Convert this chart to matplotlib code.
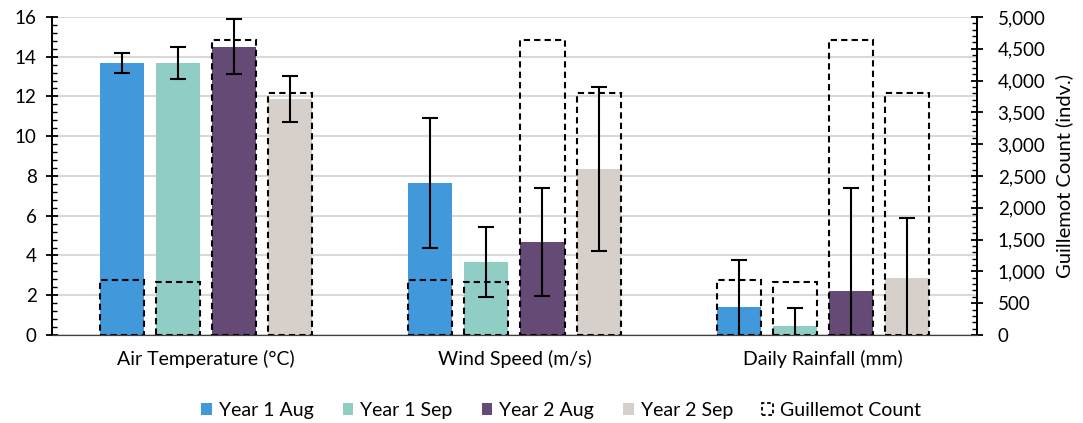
import matplotlib
matplotlib.use('Agg')
import matplotlib.pyplot as plt
from matplotlib.patches import Patch
from matplotlib.ticker import MultipleLocator, FuncFormatter
import numpy as np

plt.rcParams['font.family'] = ['Lato', 'DejaVu Sans']

categories = ['Air Temperature (°C)', 'Wind Speed (m/s)', 'Daily Rainfall (mm)']
series = ['Year 1 Aug', 'Year 1 Sep', 'Year 2 Aug', 'Year 2 Sep']
colors = ['#4198DB', '#90CDC5', '#654A75', '#D7D0CA']

# means per series, one value per category
means = {
    'Year 1 Aug': [13.69, 7.66, 1.42],
    'Year 1 Sep': [13.69, 3.67, 0.47],
    'Year 2 Aug': [14.50, 4.66, 2.20],
    'Year 2 Sep': [11.87, 8.35, 2.85],
}
errs = {
    'Year 1 Aug': [0.52, 3.26, 2.34],
    'Year 1 Sep': [0.82, 1.74, 0.89],
    'Year 2 Aug': [1.38, 2.72, 5.21],
    'Year 2 Sep': [1.18, 4.12, 3.05],
}
# guillemot count for each survey period
guillemot = [870, 840, 4640, 3800]

fig = plt.figure(figsize=(10.83, 4.23), dpi=100)
ax = fig.add_axes([0.048, 0.208, 0.854, 0.752])
ax2 = ax.twinx()

x = np.arange(len(categories))
width = 0.143
step = 0.182

for i, s in enumerate(series):
    pos = x + (i - 1.5) * step
    ax.bar(pos, means[s], width, color=colors[i], zorder=2)
    ax.errorbar(pos, means[s], yerr=errs[s], fmt='none', ecolor='black',
                elinewidth=1.5, capsize=6, capthick=1.5, zorder=4)
    ax2.bar(pos, [guillemot[i]] * len(categories), width, fill=False,
            edgecolor='black', linestyle=(0, (3, 2)), linewidth=1.5, zorder=3)

ax.set_xlim(-0.5, 2.5)
ax.set_ylim(0, 16)
ax2.set_ylim(0, 5000)
ax.set_xticks(x)
ax.set_xticklabels(categories)
ax.tick_params(axis='x', length=0, pad=11, labelsize=14, colors='black')

ax.yaxis.set_major_locator(MultipleLocator(2))
ax.yaxis.set_minor_locator(MultipleLocator(0.4))
ax.tick_params(axis='y', which='major', direction='inout', length=8, width=1.3,
               labelsize=13.5, pad=7)
ax.tick_params(axis='y', which='minor', direction='in', length=3.5, width=1.0)

ax2.yaxis.set_major_locator(MultipleLocator(500))
ax2.yaxis.set_minor_locator(MultipleLocator(100))
ax2.yaxis.set_major_formatter(FuncFormatter(lambda v, p: f'{int(v):,}'))
ax2.tick_params(axis='y', which='major', direction='inout', length=8, width=1.3,
                labelsize=13.5, pad=11)
ax2.tick_params(axis='y', which='minor', direction='in', length=3.5, width=1.0)
ax2.set_ylabel('Guillemot Count (indv.)', fontsize=14.5, labelpad=7)

ax.grid(axis='y', color='#d9d9d9', linewidth=1.5, zorder=0)
ax.set_axisbelow(True)
for a in (ax, ax2):
    a.spines['top'].set_visible(False)
    a.spines['left'].set_linewidth(1.3)
    a.spines['right'].set_linewidth(1.3)
    a.spines['bottom'].set_color('#404040')

handles = [Patch(facecolor=c, label=s) for c, s in zip(colors, series)]
handles.append(Patch(facecolor='none', edgecolor='black', linestyle=(0, (2, 1.5)),
                     linewidth=1.3, label='Guillemot Count'))
fig.legend(handles=handles, loc='center', bbox_to_anchor=(0.518, 0.03), ncol=5,
           frameon=False, fontsize=14, handlelength=0.55, handleheight=0.55,
           handletextpad=0.35, columnspacing=1.5)

fig.savefig('out.png', dpi=100)
